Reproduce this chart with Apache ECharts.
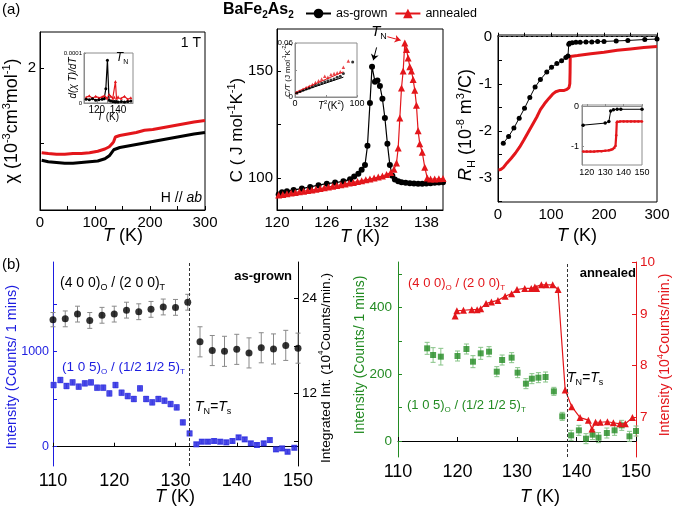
<!DOCTYPE html>
<html>
<head>
<meta charset="utf-8">
<title>BaFe2As2</title>
<script src="https://cdn.jsdelivr.net/npm/echarts@6.0.0/dist/echarts.min.js"></script>
<style>
  html, body { margin: 0; padding: 0; background: #fff; }
  #chart { width: 675px; height: 509px; }
</style>
</head>
<body>
<div id="chart"></div>
<script>
// ---- values ----

// (a) left: susceptibility chi (1e-3 cm3/mol) vs T
const chiT        = [3, 15, 30, 45, 60, 75, 90, 105, 118, 126, 131, 134, 137, 145, 160, 175, 190, 205, 220, 235, 250, 265, 280, 300];
const chiAnnealed = [0.87, 0.86, 0.85, 0.85, 0.86, 0.86, 0.87, 0.89, 0.92, 0.95, 0.99, 1.02, 1.08, 1.10, 1.12, 1.14, 1.17, 1.18, 1.20, 1.22, 1.24, 1.26, 1.28, 1.30];
const chiGrown    = [0.77, 0.75, 0.74, 0.73, 0.73, 0.74, 0.75, 0.76, 0.79, 0.83, 0.88, 0.91, 0.92, 0.94, 0.96, 0.98, 1.00, 1.02, 1.04, 1.06, 1.08, 1.10, 1.12, 1.14];

// inset: d(chi T)/dT, in units of 1e-5
const dT        = [110, 113, 116, 119, 122, 125, 127, 128.5, 130, 131.5, 133, 135, 136.5, 137.5, 138.5, 140, 143, 146, 149, 152];
const dGrown    = [0.8, 0.7, 0.9, 0.6, 0.7, 0.8, 0.9, 3.0, 9.0, 0.6, 0.4, 0.3, 0.3, 0.2, 0.3, 0.2, 0.3, 0.2, 0.3, 0.4];
const dAnnealed = [1.2, 1.5, 1.0, 1.4, 1.1, 1.3, 1.5, 1.2, 1.0, 1.8, 1.4, 1.0, 1.2, 4.5, 1.0, 1.3, 1.0, 1.4, 0.8, 1.1];

// (a) middle: specific heat C (J/mol/K)
const cGrownT = [120.2, 120.6, 121.2, 122, 123, 124, 125, 126, 127, 128, 128.8, 129.3, 129.8, 130.2, 130.6, 130.9, 131.2, 131.45, 131.8, 132.1, 132.4, 132.7, 133, 133.3, 133.6, 133.9, 134.2, 134.6, 135, 135.5, 136, 136.5, 137, 137.5, 138, 138.5, 139, 139.5, 140];
const cGrown  = [92.3, 93.3, 93.8, 94.4, 95.0, 95.8, 96.6, 97.3, 97.8, 98.4, 99.4, 100.6, 102, 103.8, 106, 115, 135, 152, 145, 145.5, 143, 137, 128, 116, 106, 101, 99.3, 98.4, 98, 97.7, 97.5, 97.4, 97.3, 97.3, 97.4, 97.5, 97.7, 97.8, 98];
const cAnnT   = [120.2, 120.7, 121.2, 121.7, 122.2, 122.7, 123.2, 123.7, 124.2, 124.7, 125.2, 125.7, 126.2, 126.7, 127.2, 127.7, 128.2, 128.7, 129.2, 129.7, 130.2, 130.7, 131.2, 131.7, 132.2, 132.7, 133.2, 133.7, 134.1, 134.4, 134.6, 134.8, 135.0, 135.2, 135.4, 135.6, 135.8, 136.0, 136.2, 136.4, 136.6, 136.8, 137.0, 137.2, 137.5, 137.8, 138.1, 138.5, 139, 139.5, 140];
const cAnn    = [92, 92.3, 92.6, 92.9, 93.2, 93.5, 93.8, 94.1, 94.4, 94.7, 95, 95.4, 95.8, 96.1, 96.5, 96.8, 97.2, 97.6, 97.9, 98.3, 98.7, 99.1, 99.5, 99.9, 100.4, 100.9, 101.6, 102.5, 104, 107, 114, 128, 142, 150, 163, 160, 156, 152, 150, 146, 141, 134, 122, 116, 112, 105, 100, 99.5, 99.5, 99.6, 99.7];

// inset: C/T vs T^2
const ctGrownX = [3, 8, 13, 18, 23, 28, 33, 38, 43, 48, 53, 58, 63, 68, 73, 78, 93];
const ctGrown  = [0.0045, 0.006, 0.0075, 0.009, 0.010, 0.0115, 0.013, 0.014, 0.0155, 0.017, 0.018, 0.019, 0.020, 0.022, 0.023, 0.026, 0.039];
const ctAnnX   = [3, 8, 13, 18, 23, 28, 33, 38, 43, 48, 53, 58, 63, 68, 73, 78, 86];
const ctAnn    = [0.005, 0.0068, 0.0085, 0.0105, 0.012, 0.014, 0.016, 0.018, 0.020, 0.023, 0.022, 0.025, 0.026, 0.027, 0.028, 0.033, 0.040];
const ctFitX     = [0, 78];
const ctFitGrown = [0.004, 0.022];
const ctFitAnn   = [0.005, 0.028];

// (a) right: Hall coefficient R_H (1e-8 m3/C)
const rhGrownT = [10, 20, 30, 40, 50, 60, 70, 80, 92, 101, 111, 120, 128, 132, 133.5, 135, 140, 147, 155, 166, 177, 188, 200, 223, 245, 277, 300];
const rhGrown  = [-2.26, -2.12, -1.94, -1.73, -1.52, -1.29, -1.07, -0.91, -0.75, -0.65, -0.57, -0.51, -0.44, -0.41, -0.16, -0.14, -0.13, -0.12, -0.12, -0.11, -0.11, -0.10, -0.10, -0.09, -0.08, -0.06, -0.05];
const rhAnnT   = [1, 5, 10, 17, 25, 33, 41, 49, 57, 65, 73, 80, 88, 96, 103, 109, 117, 125, 130, 134, 135.5, 136, 136.3, 140, 150, 175, 200, 225, 250, 275, 300];
const rhAnn    = [-2.83, -2.82, -2.78, -2.68, -2.58, -2.47, -2.34, -2.19, -2.03, -1.87, -1.71, -1.55, -1.42, -1.31, -1.22, -1.17, -1.14, -1.14, -1.12, -1.08, -1.0, -0.75, -0.42, -0.42, -0.40, -0.36, -0.33, -0.29, -0.26, -0.23, -0.21];

// inset: R_H zoom 118-150 K
const rhInGrownT = [118, 130, 132, 133, 134.5, 136.5, 138.5, 150];
const rhInGrown  = [-0.47, -0.42, -0.38, -0.12, -0.09, -0.08, -0.08, -0.08];
const rhInAnnT   = [118, 120, 122, 124, 126, 128, 130, 132, 133, 134, 135, 135.6, 136, 136.3, 136.6, 138, 140, 142, 144, 146, 148, 150];
const rhInAnn    = [-1.12, -1.12, -1.12, -1.12, -1.11, -1.11, -1.10, -1.09, -1.08, -1.06, -1.03, -0.98, -0.72, -0.40, -0.38, -0.38, -0.38, -0.38, -0.38, -0.38, -0.38, -0.38];

// (b) left: as-grown neutron
const nucGrownT   = [110, 112, 114, 116, 118, 120, 122, 124, 126, 128, 130, 132, 134, 136, 138, 140, 142, 144, 146, 148, 150];
const nucGrown    = [21.3, 21.4, 22.0, 21.2, 21.85, 22.0, 22.5, 22.3, 22.6, 22.9, 22.85, 23.5, 18.5, 17.4, 17.3, 17.55, 17.1, 17.75, 17.6, 18.05, 17.7];
const nucGrownErr = [0.9, 1.0, 1.0, 1.0, 1.0, 1.0, 1.0, 1.0, 1.0, 1.0, 1.0, 1.0, 1.9, 1.9, 1.9, 1.9, 1.9, 1.9, 1.9, 1.9, 1.9];
const magGrownT   = [110.1, 111.2, 112.2, 113.2, 114.2, 115.2, 116.2, 117.2, 118.2, 119.2, 120.2, 121.2, 122.2, 123.2, 124.2, 125.2, 126.2, 127.2, 128.2, 129.2, 130.2, 131.2, 132.3, 133.4, 134.3, 135.3, 136.3, 137.3, 138.3, 139.3, 140.3, 141.3, 142.3, 143.3, 144.4, 145.4, 146.4, 147.4, 148.3, 149.4];
const magGrown    = [649, 702, 639, 677, 632, 667, 677, 621, 621, 561, 649, 568, 533, 502, 614, 502, 467, 502, 484, 449, 414, 256, 140, 25, 53, 53, 60, 53, 46, 60, 98, 77, 35, 18, 35, 70, -28, -18, -53, -11];
const magGrownErr = [30, 30, 30, 30, 30, 30, 30, 30, 30, 30, 30, 30, 30, 30, 30, 30, 30, 30, 30, 30, 30, 28, 25, 22, 22, 22, 22, 22, 22, 22, 22, 22, 22, 22, 22, 22, 22, 22, 22, 22];
const tnGrown = 132.3;

// (b) right: annealed neutron
const nucAnnT = [119.6, 119.9, 121.0, 122.4, 123.3, 123.9, 124.8, 125.7, 126.8, 128.0, 129.1, 130.0, 131.3, 132.4, 133.0, 133.3, 134.1, 134.9, 136.0, 136.9, 138.1, 139.2, 140.6, 142.0, 142.6, 143.2, 144.0, 145.2, 146.2, 147.3, 148.2, 149.4];
const nucAnn  = [8.96, 9.06, 9.07, 9.08, 9.08, 9.10, 9.20, 9.23, 9.26, 9.34, 9.39, 9.47, 9.49, 9.49, 9.52, 9.49, 9.56, 9.56, 9.56, 9.47, 7.53, 7.21, 7.0, 6.95, 6.78, 6.91, 6.91, 6.92, 6.90, 6.88, 6.88, 7.0];
const magAnnT   = [114.9, 115.9, 117.2, 120.0, 121.5, 122.6, 123.9, 125.3, 126.6, 127.5, 129.1, 130.1, 131.5, 132.5, 133.6, 134.8, 136.2, 137.6, 139.1, 140.4, 141.6, 142.7, 143.7, 145.1, 146.4, 147.6, 148.9, 150.0];
const magAnn    = [278, 258, 253, 255, 276, 238, 263, 268, 208, 243, 250, 205, 172, 187, 190, 192, 149, 74, 17, 32, 7, 19, 10, 24, 32, 47, 14, 30];
const magAnnErr = [18, 22, 25, 15, 15, 18, 18, 15, 15, 15, 15, 15, 15, 15, 15, 15, 12, 12, 15, 15, 15, 15, 15, 15, 15, 15, 15, 15];
const tnAnnealed = 138.4;

// ---- styling ----
const FONT = '"Liberation Sans", Arial, sans-serif';
const BLACK = '#000000';
const RED = '#e3161b';
const BLUE = '#1d1de0';
const GREEN = '#238b23';

const zip = (xs, ys) => xs.map((x, i) => [x, ys[i]]);
const plain = (v) => String(v);

function xAx(grid, min, max, labels, ticks, o = {}) {
  const c = o.color || BLACK;
  return {
    type: 'value', gridIndex: grid, min, max,
    axisLine: { lineStyle: { color: o.lineColor || c, width: 1 } },
    axisTick: { inside: true, length: o.tick || 4, customValues: ticks, lineStyle: { color: o.lineColor || c } },
    axisLabel: { customValues: labels, color: c, fontSize: o.size || 15, fontFamily: FONT, margin: o.margin ?? 5, formatter: o.fmt || plain },
    splitLine: { show: false },
  };
}

function yAx(grid, min, max, labels, ticks, o = {}) {
  const a = xAx(grid, min, max, labels, ticks, o);
  a.position = o.position || 'left';
  return a;
}

function rich(size, color) {
  const sm = Math.round(size * 0.62);
  return {
    a: { fontSize: size, fontFamily: FONT, fill: color, lineHeight: size + 4 },
    i: { fontSize: size, fontFamily: FONT, fill: color, fontStyle: 'italic', lineHeight: size + 4 },
    b: { fontSize: size, fontFamily: FONT, fill: color, fontWeight: 'bold', lineHeight: size + 4 },
    p: { fontSize: sm, fontFamily: FONT, fill: color, lineHeight: sm, verticalAlign: 'top' },
    s: { fontSize: sm, fontFamily: FONT, fill: color, lineHeight: sm, verticalAlign: 'bottom' },
    bs: { fontSize: sm, fontFamily: FONT, fill: color, fontWeight: 'bold', lineHeight: sm, verticalAlign: 'bottom' },
  };
}

function label(x, y, text, size, color, o = {}) {
  return {
    type: 'text', x, y, rotation: o.rot || 0, silent: true, z: 100,
    style: { text, rich: rich(size, color), align: o.align || 'center', verticalAlign: 'middle' },
  };
}

function errorBars(xs, ys, errs, xi, yi, color) {
  return {
    type: 'custom', xAxisIndex: xi, yAxisIndex: yi, silent: true, z: 1,
    data: xs.map((x, i) => [x, ys[i] - errs[i], ys[i] + errs[i]]),
    renderItem(params, api) {
      const lo = api.coord([api.value(0), api.value(1)]);
      const hi = api.coord([api.value(0), api.value(2)]);
      const w = 2.5;
      const st = { stroke: color, lineWidth: 1 };
      return {
        type: 'group',
        children: [
          { type: 'line', shape: { x1: lo[0], y1: lo[1], x2: hi[0], y2: hi[1] }, style: st },
          { type: 'line', shape: { x1: lo[0] - w, y1: lo[1], x2: lo[0] + w, y2: lo[1] }, style: st },
          { type: 'line', shape: { x1: hi[0] - w, y1: hi[1], x2: hi[0] + w, y2: hi[1] }, style: st },
        ],
      };
    },
  };
}

const vline = (x) => ({
  silent: true, symbol: ['none', 'none'], label: { show: false },
  lineStyle: { color: '#333', type: [3, 2], width: 1 },
  data: [{ xAxis: x }],
});

const box = { show: true, borderColor: BLACK, borderWidth: 1, backgroundColor: 'transparent' };
const insetBox = { show: true, borderColor: '#8c8c8c', borderWidth: 1, backgroundColor: '#fff' };

const chart = echarts.init(document.getElementById('chart'), null, { renderer: 'canvas' });

chart.setOption({
  animation: false,
  backgroundColor: '#fff',
  legend: {
    left: 300, top: 2, itemWidth: 25, itemHeight: 12, itemGap: 7, selectedMode: false,
    textStyle: { fontSize: 12.5, fontFamily: FONT, color: BLACK },
    data: ['as-grown', 'annealed'],
  },
  grid: [
    Object.assign({ left: 40, top: 32, width: 165, height: 178 }, box),
    Object.assign({ left: 84, top: 53, width: 49, height: 50 }, insetBox),
    Object.assign({ left: 277, top: 29, width: 166, height: 181 }, box),
    Object.assign({ left: 295, top: 43, width: 62, height: 54 }, insetBox),
    Object.assign({ left: 498, top: 35, width: 159, height: 167 }, box),
    Object.assign({ left: 582, top: 105, width: 60, height: 60 }, insetBox),
    { left: 53, top: 262, width: 245, height: 204 },
    { left: 398, top: 262, width: 238, height: 195 },
  ],
  xAxis: [
    xAx(0, 0, 300, [0, 100, 200, 300], [0, 50, 100, 150, 200, 250, 300]),
    xAx(1, 108, 154, [120, 140], [120, 130, 140, 150], { size: 10, margin: 2, tick: 2, lineColor: '#8c8c8c' }),
    xAx(2, 120, 140, [120, 126, 132, 138], [120, 123, 126, 129, 132, 135, 138]),
    xAx(3, 0, 100, [0, 100], [0, 50, 100], { size: 9, margin: 2, tick: 2, lineColor: '#8c8c8c' }),
    xAx(4, 0, 300, [0, 100, 200, 300], [0, 50, 100, 150, 200, 250, 300]),
    xAx(5, 117.4, 150, [120, 130, 140, 150], [120, 130, 140, 150], { size: 9, margin: 3, tick: 2, lineColor: '#8c8c8c' }),
    xAx(6, 110, 150, [110, 120, 130, 140, 150], [110, 120, 130, 140, 150], { size: 18, margin: 6 }),
    xAx(7, 110, 150, [110, 120, 130, 140, 150], [110, 120, 130, 140, 150], { size: 18, margin: 6 }),
  ],
  yAxis: [
    yAx(0, 0.107, 2.48, [2], [1, 2], { margin: 4 }),
    yAx(1, 0, 10.5, [0, 10.5], [0, 10.5], { size: 6, margin: 2, tick: 2, lineColor: '#8c8c8c', fmt: (v) => (v > 5 ? '0.0001' : '0') }),
    yAx(2, 85, 169.6, [100, 150], [100, 125, 150], { margin: 4 }),
    yAx(3, 0, 0.06, [0, 0.06], [0, 0.03, 0.06], { size: 8, margin: 2, tick: 2, lineColor: '#8c8c8c' }),
    yAx(4, -3.51, 0.036, [0, -1, -2, -3], [0, -0.5, -1, -1.5, -2, -2.5, -3, -3.5], { margin: 6 }),
    yAx(5, -1.45, 0.025, [0, -1], [0, -0.5, -1], { size: 9, margin: 3, tick: 2, lineColor: '#8c8c8c' }),
    yAx(6, -203, 1944, [0, 1000], [0, 500, 1000, 1500], { color: BLUE, size: 12.5, margin: 4 }),
    yAx(6, 2.82, 28.58, [12, 24], [6, 12, 18, 24], { position: 'right', size: 13.5, margin: 4 }),
    yAx(7, -48, 537, [0, 200, 400], [0, 100, 200, 300, 400, 500], { color: GREEN, size: 13.5, margin: 6 }),
    yAx(7, 6.24, 10, [7, 8, 9, 10], [7, 8, 9, 10], { position: 'right', color: RED, size: 13.5, margin: 4 }),
  ],
  series: [
    // (a) chi
    { type: 'line', xAxisIndex: 0, yAxisIndex: 0, data: zip(chiT, chiAnnealed), showSymbol: false, lineStyle: { color: RED, width: 3 } },
    { type: 'line', xAxisIndex: 0, yAxisIndex: 0, data: zip(chiT, chiGrown), showSymbol: false, lineStyle: { color: BLACK, width: 3 } },
    // inset d(chiT)/dT
    { type: 'line', xAxisIndex: 1, yAxisIndex: 1, data: zip(dT, dAnnealed), symbol: 'triangle', symbolSize: 3, itemStyle: { color: RED }, lineStyle: { color: RED, width: 1.2 } },
    { type: 'line', xAxisIndex: 1, yAxisIndex: 1, data: zip(dT, dGrown), symbol: 'circle', symbolSize: 3, itemStyle: { color: BLACK }, lineStyle: { color: BLACK, width: 1.2 } },
    // (a) C
    {
      name: 'as-grown', type: 'line', xAxisIndex: 2, yAxisIndex: 2, data: zip(cGrownT, cGrown),
      symbol: 'circle', symbolSize: 6, itemStyle: { color: BLACK }, lineStyle: { color: BLACK, width: 1.2 },
      markLine: {
        silent: true, symbol: ['none', 'arrow'], symbolSize: 6, label: { show: false },
        lineStyle: { color: BLACK, type: 'solid', width: 1 },
        data: [[{ coord: [132.0, 161] }, { coord: [131.6, 155] }]],
      },
    },
    {
      name: 'annealed', type: 'line', xAxisIndex: 2, yAxisIndex: 2, data: zip(cAnnT, cAnn),
      symbol: 'triangle', symbolSize: 7, itemStyle: { color: RED }, lineStyle: { color: RED, width: 1.2 },
      markLine: {
        silent: true, symbol: ['none', 'arrow'], symbolSize: 6, label: { show: false },
        lineStyle: { color: RED, type: 'solid', width: 1 },
        data: [[{ coord: [133.3, 166] }, { coord: [134.9, 164.3] }]],
      },
    },
    // inset C/T
    { type: 'line', xAxisIndex: 3, yAxisIndex: 3, data: zip(ctFitX, ctFitAnn), showSymbol: false, lineStyle: { color: RED, width: 1 } },
    { type: 'line', xAxisIndex: 3, yAxisIndex: 3, data: zip(ctFitX, ctFitGrown), showSymbol: false, lineStyle: { color: BLACK, width: 1 } },
    { type: 'scatter', xAxisIndex: 3, yAxisIndex: 3, data: zip(ctAnnX, ctAnn), symbol: 'triangle', symbolSize: 3.5, itemStyle: { color: RED } },
    { type: 'scatter', xAxisIndex: 3, yAxisIndex: 3, data: zip(ctGrownX, ctGrown), symbol: 'circle', symbolSize: 3, itemStyle: { color: BLACK } },
    // (a) R_H
    {
      type: 'line', xAxisIndex: 4, yAxisIndex: 4, data: zip(rhAnnT, rhAnn), showSymbol: false, lineStyle: { color: RED, width: 3 },
      markLine: {
        silent: true, symbol: ['none', 'none'], label: { show: false },
        lineStyle: { color: '#444', type: [3, 2], width: 1 }, data: [{ yAxis: 0 }],
      },
    },
    { type: 'line', xAxisIndex: 4, yAxisIndex: 4, data: zip(rhGrownT, rhGrown), symbol: 'circle', symbolSize: 5, itemStyle: { color: BLACK }, lineStyle: { color: BLACK, width: 1 } },
    // inset R_H
    { type: 'line', xAxisIndex: 5, yAxisIndex: 5, data: zip(rhInAnnT, rhInAnn), symbol: 'circle', symbolSize: 2.5, itemStyle: { color: RED }, lineStyle: { color: RED, width: 2.2 } },
    { type: 'line', xAxisIndex: 5, yAxisIndex: 5, data: zip(rhInGrownT, rhInGrown), symbol: 'circle', symbolSize: 3.5, itemStyle: { color: BLACK }, lineStyle: { color: BLACK, width: 1 } },
    // (b) as-grown
    errorBars(nucGrownT, nucGrown, nucGrownErr, 6, 7, '#8a8a8a'),
    { type: 'scatter', xAxisIndex: 6, yAxisIndex: 7, data: zip(nucGrownT, nucGrown), symbol: 'circle', symbolSize: 7, itemStyle: { color: BLACK }, z: 3, markLine: vline(tnGrown) },
    errorBars(magGrownT, magGrown, magGrownErr, 6, 6, '#9b9bea'),
    { type: 'scatter', xAxisIndex: 6, yAxisIndex: 6, data: zip(magGrownT, magGrown), symbol: 'rect', symbolSize: 6, itemStyle: { color: BLUE }, z: 3 },
    // (b) annealed
    errorBars(magAnnT, magAnn, magAnnErr, 7, 8, '#86c386'),
    { type: 'scatter', xAxisIndex: 7, yAxisIndex: 8, data: zip(magAnnT, magAnn), symbol: 'rect', symbolSize: 6, itemStyle: { color: GREEN }, z: 3, markLine: vline(tnAnnealed) },
    { type: 'line', xAxisIndex: 7, yAxisIndex: 9, data: zip(nucAnnT, nucAnn), symbol: 'triangle', symbolSize: 7, itemStyle: { color: RED }, lineStyle: { color: RED, width: 1.2 }, z: 4 },
  ],
  graphic: [
    label(2, 10, '{a|(a)}', 15, BLACK, { align: 'left' }),
    label(223, 10, '{b|BaFe}{bs|2}{b|As}{bs|2}', 16, BLACK, { align: 'left' }),
    // chi panel
    label(201, 43, '{a|1 T}', 14, BLACK, { align: 'right' }),
    label(202, 198, '{a|H // }{i|ab}', 14, BLACK, { align: 'right' }),
    label(12, 121, '{a|χ (10}{p|-3}{a|cm}{p|3}{a|mol}{p|-1}{a|)}', 18, BLACK, { rot: Math.PI / 2 }),
    label(123, 236, '{i|T}{a| (K)}', 18, BLACK),
    label(73, 78, '{i|d(χ T)/dT}', 10, BLACK, { rot: Math.PI / 2 }),
    label(108, 117, '{i|T}{a| (K)}', 10, BLACK),
    label(122, 58, '{i|T}{s|N}', 12, BLACK),
    // C panel
    label(237, 130, '{a|C ( J mol}{p|-1}{a|K}{p|-1}{a|)}', 17, BLACK, { rot: Math.PI / 2 }),
    label(360, 237, '{i|T}{a| (K)}', 18, BLACK),
    label(379, 32, '{i|T}{s|N}', 15, BLACK),
    label(288, 70, '{i|C/T}{a| (J mol}{p|-1}{a|K}{p|-2}{a|)}', 8, BLACK, { rot: Math.PI / 2 }),
    label(331, 106, '{i|T}{p|2}{a|(K}{p|2}{a|)}', 10, BLACK),
    // R_H panel
    label(466, 125, '{i|R}{s|H}{a| (10}{p|-8}{a| m}{p|3}{a|/C)}', 18, BLACK, { rot: Math.PI / 2 }),
    label(577, 236, '{i|T}{a| (K)}', 18, BLACK),
    // (b)
    label(2, 265, '{a|(b)}', 15, BLACK, { align: 'left' }),
    label(60, 283, '{a|(4 0 0)}{s|O}{a| / (2 0 0)}{s|T}', 14, BLACK, { align: 'left' }),
    label(62, 367, '{a|(1 0 5)}{s|O}{a| / (1/2 1/2 5)}{s|T}', 13.5, BLUE, { align: 'left' }),
    label(292, 276, '{b|as-grown}', 13, BLACK, { align: 'right' }),
    label(195, 407, '{i|T}{s|N}{i|=T}{s|s}', 14, BLACK, { align: 'left' }),
    label(12, 367, '{a|Intensity (Counts/ 1 mins)}', 14.5, BLUE, { rot: Math.PI / 2 }),
    label(326, 368, '{a|Integrated Int. (10}{p|4}{a|Counts/min.)}', 13.7, BLACK, { rot: Math.PI / 2 }),
    label(175, 497, '{i|T}{a| (K)}', 18, BLACK),
    label(408, 283, '{a|(4 0 0)}{s|O}{a| / (2 0 0)}{s|T}', 13, RED, { align: 'left' }),
    label(407, 405, '{a|(1 0 5)}{s|O}{a| / (1/2 1/2 5)}{s|T}', 13, GREEN, { align: 'left' }),
    label(636, 273, '{b|annealed}', 13, BLACK, { align: 'right' }),
    label(567, 378, '{i|T}{s|N}{i|=T}{s|s}', 14, BLACK, { align: 'left' }),
    label(360, 355, '{a|Intensity (Counts/ 1 mins)}', 14, GREEN, { rot: Math.PI / 2 }),
    label(665, 355, '{a|Intensity (10}{p|4}{a|Counts/min.)}', 14.2, RED, { rot: Math.PI / 2 }),
    label(540, 497, '{i|T}{a| (K)}', 18, BLACK),
  ],
});
</script>
</body>
</html>
